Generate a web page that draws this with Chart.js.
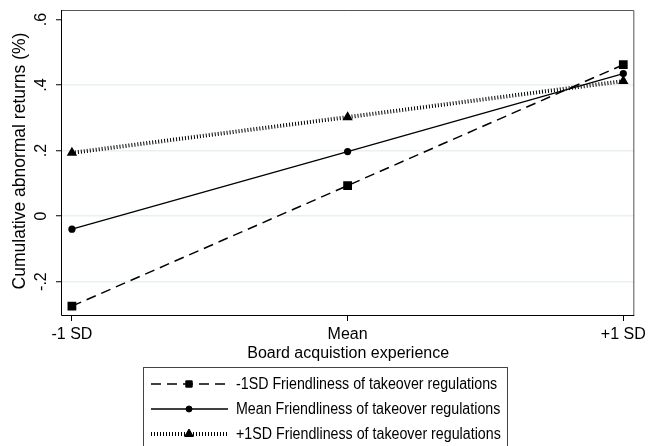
<!DOCTYPE html>
<html>
<head>
<meta charset="utf-8">
<script src="https://cdn.jsdelivr.net/npm/chart.js@4/dist/chart.umd.min.js"></script>
<style>
  html, body { margin: 0; padding: 0; background: #fff; }
  #wrap { width: 650px; height: 446px; }
</style>
</head>
<body>
<div id="wrap"><canvas id="c" width="650" height="446"></canvas></div>
<script>
// Board acquisition experience levels (x positions -1, 0, +1 SD)
const experienceLevels = [-1, 0, 1];
const experienceLabels = ['-1 SD', 'Mean', '+1 SD'];

// Cumulative abnormal returns (%) by friendliness of takeover regulations
const carLowFriendliness  = [-0.275, 0.093, 0.462];
const carMeanFriendliness = [-0.040, 0.197, 0.435];
const carHighFriendliness = [0.193, 0.302, 0.412];

const seriesNames = [
  '-1SD Friendliness of takeover regulations',
  'Mean Friendliness of takeover regulations',
  '+1SD Friendliness of takeover regulations'
];

const yTickValues = [-0.2, 0, 0.2, 0.4, 0.6];
const yTickLabels = ['-.2', '0', '.2', '.4', '.6'];

const FONT = "'Liberation Sans', Arial, sans-serif";

function toPoints(vals) {
  return experienceLevels.map((x, i) => ({ x: x, y: vals[i] }));
}

// Titles, rotated y tick labels, plot frame and the legend box
const decorations = {
  id: 'decorations',
  afterDraw(chart) {
    const ctx = chart.ctx;
    const area = chart.chartArea;
    const ys = chart.scales.y;

    ctx.save();
    // plot frame
    ctx.lineWidth = 1;
    ctx.strokeStyle = '#555';
    ctx.beginPath();
    ctx.moveTo(area.left, area.top + 0.5);
    ctx.lineTo(area.right - 0.5, area.top + 0.5);
    ctx.lineTo(area.right - 0.5, area.bottom);
    ctx.stroke();
    ctx.strokeStyle = '#000';
    ctx.beginPath();
    ctx.moveTo(area.left - 0.5, area.top);
    ctx.lineTo(area.left - 0.5, area.bottom + 0.5);
    ctx.lineTo(area.right, area.bottom + 0.5);
    ctx.stroke();

    // y tick labels, rotated
    ctx.fillStyle = '#000';
    ctx.font = '16px ' + FONT;
    ctx.textAlign = 'center';
    ctx.textBaseline = 'middle';
    yTickValues.forEach((v, i) => {
      const py = ys.getPixelForValue(v);
      ctx.save();
      ctx.translate(42, py);
      ctx.rotate(-Math.PI / 2);
      ctx.fillText(yTickLabels[i], 0, 0);
      ctx.restore();
    });

    // axis titles
    ctx.save();
    ctx.font = '17.5px ' + FONT;
    ctx.translate(20, 161);
    ctx.rotate(-Math.PI / 2);
    ctx.fillText('Cumulative abnormal returns (%)', 0, 0);
    ctx.restore();
    ctx.fillText('Board acquistion experience', (area.left + area.right) / 2, 354);

    // legend box
    const box = { left: 143.5, top: 367.5, right: 507.5, bottom: 452 };
    ctx.strokeStyle = '#444';
    ctx.lineWidth = 1;
    ctx.strokeRect(box.left, box.top, box.right - box.left, box.bottom - box.top);

    const rowY = [384, 409, 434];
    chart.data.datasets.forEach((ds, i) => {
      const y = rowY[i];
      ctx.save();
      ctx.strokeStyle = '#000';
      ctx.lineWidth = ds.borderWidth;
      ctx.setLineDash(ds.borderDash || []);
      ctx.beginPath();
      ctx.moveTo(151, y);
      ctx.lineTo(228, y);
      ctx.stroke();
      ctx.restore();
      ctx.save();
      ctx.fillStyle = '#000';
      ctx.strokeStyle = '#000';
      Chart.helpers.drawPoint(ctx, {
        pointStyle: ds.pointStyle,
        radius: ds.legendRadius,
        rotation: 0,
        borderWidth: 1
      }, 189, y);
      ctx.restore();
      // legend labels, set slightly condensed
      ctx.save();
      ctx.fillStyle = '#000';
      ctx.textAlign = 'left';
      ctx.textBaseline = 'middle';
      ctx.font = '16px ' + FONT;
      ctx.translate(236, y + 1);
      ctx.scale(0.89, 1);
      ctx.fillText(ds.label, 0, 0);
      ctx.restore();
    });
    ctx.restore();
  }
};

const chart = new Chart(document.getElementById('c'), {
  type: 'line',
  data: {
    datasets: [
      {
        label: seriesNames[0],
        data: toPoints(carLowFriendliness),
        borderColor: '#000',
        backgroundColor: '#000',
        borderWidth: 1.5,
        borderDash: [10, 6],
        pointStyle: 'rect',
        pointRadius: 6.2,
        pointBorderWidth: 0,
        legendRadius: 4.5
      },
      {
        label: seriesNames[1],
        data: toPoints(carMeanFriendliness),
        borderColor: '#000',
        backgroundColor: '#000',
        borderWidth: 1.3,
        pointStyle: 'circle',
        pointRadius: 3.6,
        pointBorderWidth: 0,
        legendRadius: 3
      },
      {
        label: seriesNames[2],
        data: toPoints(carHighFriendliness),
        borderColor: '#000',
        backgroundColor: '#000',
        borderWidth: 4,
        borderDash: [1, 2],
        pointStyle: 'triangle',
        pointRadius: 6,
        pointBorderWidth: 0,
        legendRadius: 5
      }
    ]
  },
  options: {
    responsive: false,
    animation: false,
    events: [],
    layout: { padding: { left: 0, top: 10, right: 13, bottom: 0 } },
    plugins: { legend: { display: false }, tooltip: { enabled: false } },
    scales: {
      x: {
        type: 'linear',
        min: -1.036,
        max: 1.04,
        afterBuildTicks(scale) { scale.ticks = experienceLevels.map(v => ({ value: v })); },
        afterFit(scale) { scale.height = 131; },
        border: { display: false },
        grid: {
          drawOnChartArea: false,
          drawTicks: true,
          tickLength: 6,
          tickColor: '#000',
          tickWidth: 1
        },
        ticks: {
          autoSkip: false,
          maxRotation: 0,
          padding: 4,
          color: '#000',
          font: { family: FONT, size: 16 },
          callback: (v) => experienceLabels[experienceLevels.indexOf(v)]
        }
      },
      y: {
        min: -0.302,
        max: 0.629,
        afterBuildTicks(scale) { scale.ticks = yTickValues.map(v => ({ value: v })); },
        afterFit(scale) { scale.width = 62; },
        border: { display: false },
        grid: {
          drawTicks: true,
          tickLength: 6,
          tickColor: '#000',
          tickWidth: 1,
          lineWidth: 1.5,
          color: (c) => (c.tick && Math.abs(c.tick.value - 0.6) < 1e-9) ? 'rgba(0,0,0,0)' : '#e9f0f2'
        },
        ticks: { display: false }
      }
    }
  },
  plugins: [decorations]
});
</script>
</body>
</html>
